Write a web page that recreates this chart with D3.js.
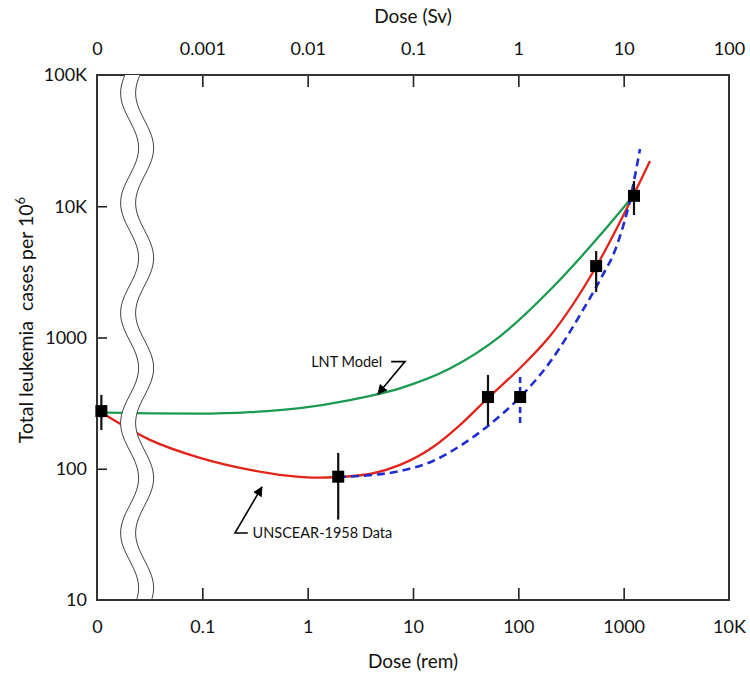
<!DOCTYPE html>
<html><head><meta charset="utf-8">
<script src="https://cdn.jsdelivr.net/npm/d3@7"></script>
<style>body{margin:0;background:#fff}svg{display:block}text{font-family:Lato,"Open Sans",sans-serif;fill:#111}</style>
</head><body>
<svg id="c" width="750" height="679"></svg>
<script>
// ---- data (dose in rem, cases per 10^6) ----
const remTicks = [0.01, 0.1, 1, 10, 100, 1000, 10000];
const remLabels = ["0", "0.1", "1", "10", "100", "1000", "10K"];
const svTicks = [0.0001, 0.001, 0.01, 0.1, 1, 10, 100];
const svLabels = ["0", "0.001", "0.01", "0.1", "1", "10", "100"];
const yTicks = [10, 100, 1000, 10000, 100000];
const yLabels = ["10", "100", "1000", "10K", "100K"];

// LNT model (green)
const lntDose  = [0.011, 0.0318, 0.095, 0.284, 0.845, 2.52, 7.53, 22.4, 67, 200, 596, 1148];
const lntCases = [268, 264, 263, 270, 290, 334, 410, 580, 1020, 2300, 6000, 11200];

// UNSCEAR-1958 data fit (red)
const unsDose  = [0.011, 0.0318, 0.095, 0.284, 0.6, 1.3, 1.94, 3.91, 7.53, 15.5, 27.9, 51.5, 104, 200, 546, 1227, 1778];
const unsCases = [268, 166, 121, 98, 89, 85.5, 86.5, 91.2, 107, 146.5, 215, 346, 586, 1026, 3443, 11960, 22130];

// dashed fit (blue)
const fitDose  = [1.94, 3.14, 7.53, 15.5, 27.9, 51.5, 104, 200, 411, 596, 865, 1148, 1429];
const fitCases = [86.5, 88.1, 96.1, 114.6, 149, 212, 352, 650, 1622, 2742, 5070, 11170, 27300];

// data points with error bars
const ptDose  = [0.011, 1.95, 51.5, 548, 1253];
const ptCases = [275, 87, 352, 3500, 12000];
const ptLow   = [197, 41, 215, 2220, 8570];
const ptHigh  = [365, 132, 518, 4560, 15560];

const blueDose = [104], blueCases = [352], blueLow = [223], blueHigh = [536];

// ---- scales ----
const svg = d3.select("#c");
const L = 97, R = 729, T = 75, B = 600;
const x = d3.scaleLog().domain([0.01, 10000]).range([L, R]);
const xs = d3.scaleLog().domain([0.0001, 100]).range([L, R]);
const y = d3.scaleLog().domain([10, 100000]).range([B, T]);

// ---- axes ----
const gB = svg.append("g").attr("transform", `translate(0,${B})`)
  .call(d3.axisBottom(x).tickValues(remTicks).tickFormat((d,i)=>remLabels[i]).tickSizeInner(-12).tickSizeOuter(0).tickPadding(20));
const gT = svg.append("g").attr("transform", `translate(0,${T})`)
  .call(d3.axisTop(xs).tickValues(svTicks).tickFormat((d,i)=>svLabels[i]).tickSizeInner(-12).tickSizeOuter(0).tickPadding(20));
const gL = svg.append("g").attr("transform", `translate(${L},0)`)
  .call(d3.axisLeft(y).tickValues(yTicks).tickFormat((d,i)=>yLabels[i]).tickSizeInner(-10).tickSizeOuter(0).tickPadding(10));
[gB, gT, gL].forEach(g => {
  g.select(".domain").remove();
  g.selectAll(".tick line").attr("stroke", "#222").attr("stroke-width", 1.6);
  g.selectAll(".tick text").attr("font-size", 18).attr("fill", "#111").style("font-family", "Lato, sans-serif");
  g.selectAll(".tick").filter((d,i,n)=> i===0 || i===n.length-1).select("line").remove();
});

// frame
svg.append("rect").attr("x", L).attr("y", T).attr("width", R-L).attr("height", B-T)
  .attr("fill", "none").attr("stroke", "#333").attr("stroke-width", 2);

// titles
svg.append("text").attr("x", (L+R)/2).attr("y", 23).attr("text-anchor", "middle").attr("font-size", 19).text("Dose (Sv)");
svg.append("text").attr("x", (L+R)/2).attr("y", 668).attr("text-anchor", "middle").attr("font-size", 19).text("Dose (rem)");
const yl = svg.append("text").attr("transform", "translate(33,320) rotate(-90)").attr("text-anchor", "middle").attr("font-size", 19.5);
yl.append("tspan").text("Total leukemia\u00a0\u00a0cases per 10");
yl.append("tspan").attr("dy", -8).attr("font-size", 13).text("6");

// ---- curves ----
const line = d3.line().x(d=>x(d[0])).y(d=>y(d[1])).curve(d3.curveMonotoneX);
svg.append("path").datum(lntDose.map((d,i)=>[d, lntCases[i]])).attr("d", line)
  .attr("fill", "none").attr("stroke", "#1a9a50").attr("stroke-width", 2.3);
svg.append("path").datum(unsDose.map((d,i)=>[d, unsCases[i]])).attr("d", line)
  .attr("fill", "none").attr("stroke", "#e2231a").attr("stroke-width", 2.3);
svg.append("path").datum(fitDose.map((d,i)=>[d, fitCases[i]])).attr("d", line)
  .attr("fill", "none").attr("stroke", "#1f2ed0").attr("stroke-width", 2.6).attr("stroke-dasharray", "8,5");

// ---- axis break (wavy white band) ----
const bx = x(0.0204);
const wave = d3.range(T, B + 1, 2).map(v => [bx - 9 * Math.cos(2 * Math.PI * (v - 93) / 110), v]);
const lineW = d3.line().x(d=>d[0]).y(d=>d[1]).curve(d3.curveBasis);
const band = wave.concat(wave.slice().reverse().map(d=>[d[0] + 15, d[1]]));
svg.append("path").attr("d", d3.line()(band) + "Z").attr("fill", "#fff").attr("stroke", "none");
svg.append("path").attr("d", lineW(wave)).attr("fill", "none").attr("stroke", "#444").attr("stroke-width", 1);
svg.append("path").attr("d", lineW(wave.map(d=>[d[0] + 15, d[1]]))).attr("fill", "none").attr("stroke", "#444").attr("stroke-width", 1);

// ---- error bars & points ----
svg.selectAll(".eb").data(ptDose).enter().append("line")
  .attr("x1", d=>x(d)).attr("x2", d=>x(d))
  .attr("y1", (d,i)=>y(ptLow[i])).attr("y2", (d,i)=>y(ptHigh[i]))
  .attr("stroke", "#111").attr("stroke-width", 2.2);
svg.selectAll(".beb").data(blueDose).enter().append("line")
  .attr("x1", d=>x(d)).attr("x2", d=>x(d))
  .attr("y1", (d,i)=>y(blueLow[i])).attr("y2", (d,i)=>y(blueHigh[i]))
  .attr("stroke", "#1f2ed0").attr("stroke-width", 2.6).attr("stroke-dasharray", "6,4");
const allDose = ptDose.concat(blueDose), allCases = ptCases.concat(blueCases);
svg.selectAll(".pt").data(allDose).enter().append("rect")
  .attr("x", d=>x(d) - 6).attr("y", (d,i)=>y(allCases[i]) - 6)
  .attr("width", 12).attr("height", 12).attr("fill", "#000");

// ---- annotations ----
const defs = svg.append("defs");
defs.append("marker").attr("id", "ah").attr("viewBox", "0 0 10 10").attr("refX", 9).attr("refY", 5)
  .attr("markerWidth", 10).attr("markerHeight", 10).attr("markerUnits", "userSpaceOnUse").attr("orient", "auto")
  .append("path").attr("d", "M0,0 L10,5 L0,10 Z").attr("fill", "#000");
const ann = d3.line().x(d=>x(d[0])).y(d=>y(d[1]));
svg.append("text").attr("x", x(1.08)).attr("y", y(655)).attr("dy", "0.35em").attr("font-size", 14.5).text("LNT Model");
svg.append("path").attr("d", ann([[6.2, 655], [8.4, 655], [4.65, 371]]))
  .attr("fill", "none").attr("stroke", "#000").attr("stroke-width", 1.6).attr("marker-end", "url(#ah)");
svg.append("text").attr("x", x(0.3)).attr("y", y(32.4)).attr("dy", "0.35em").attr("font-size", 14.5).text("UNSCEAR-1958 Data");
svg.append("path").attr("d", ann([[0.27, 32.4], [0.204, 32.4], [0.368, 72.6]]))
  .attr("fill", "none").attr("stroke", "#000").attr("stroke-width", 1.6).attr("marker-end", "url(#ah)");
</script>
</body></html>
